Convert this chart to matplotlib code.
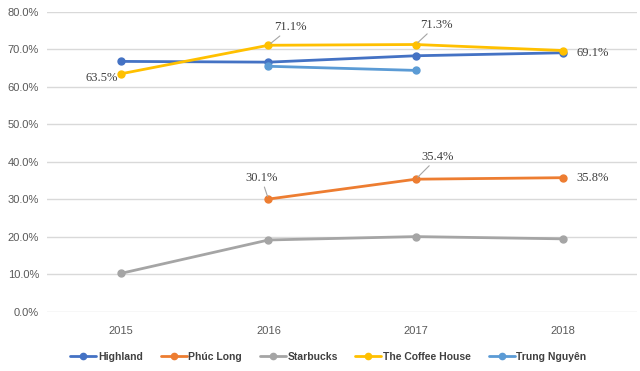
import numpy as np
import matplotlib
matplotlib.use("Agg")
import matplotlib.pyplot as plt

years = ["2015", "2016", "2017", "2018"]
highland = [0.668, 0.666, 0.683, 0.691]
phuc_long = [np.nan, 0.301, 0.354, 0.358]
starbucks = [0.103, 0.192, 0.201, 0.195]
coffee_house = [0.635, 0.711, 0.713, 0.697]
trung_nguyen = [np.nan, 0.655, 0.644, np.nan]

series = [
    ("Highland", highland, "#4472C4"),
    ("Phúc Long", phuc_long, "#ED7D31"),
    ("Starbucks", starbucks, "#A5A5A5"),
    ("The Coffee House", coffee_house, "#FFC000"),
    ("Trung Nguyên", trung_nguyen, "#5B9BD5"),
]

fig = plt.figure(figsize=(6.4, 3.71), dpi=100)
ax = fig.add_axes([0.074, 0.159, 0.921, 0.809])
x = np.arange(len(years))

for name, vals, col in series:
    ax.plot(x, vals, color=col, lw=2.0, marker="o", ms=5, label=name,
            solid_capstyle="round")

ax.set_xlim(-0.5, len(years) - 0.5)
ax.set_ylim(0, 0.8)
ax.set_yticks(np.arange(0, 0.81, 0.1))
ax.set_yticklabels(["%.1f%%" % (v * 100) for v in np.arange(0, 0.81, 0.1)])
ax.set_xticks(x)
ax.set_xticklabels(years)
ax.grid(axis="y", color="#D9D9D9", lw=1)
ax.set_axisbelow(True)
for s in ax.spines.values():
    s.set_visible(False)
ax.tick_params(length=0, labelsize=8, colors="#595959", pad=6)
ax.tick_params(axis="x", pad=10)
for lab in ax.get_xticklabels() + ax.get_yticklabels():
    lab.set_fontfamily("Liberation Sans")

# data labels (serif, like the source)
lab_kw = dict(fontsize=9, family="Liberation Serif", color="#404040",
              textcoords="offset points")
arrow = dict(arrowstyle="-", color="#A5A5A5", lw=0.8, shrinkA=0, shrinkB=2)
ax.annotate("63.5%", (0, coffee_house[0]), xytext=(-14, -3), ha="center", va="center", **lab_kw)
ax.annotate("71.1%", (1, coffee_house[1]), xytext=(16, 13), ha="center", va="center",
            arrowprops=arrow, **lab_kw)
ax.annotate("71.3%", (2, coffee_house[2]), xytext=(15, 14), ha="center", va="center",
            arrowprops=arrow, **lab_kw)
ax.annotate("69.1%", (3, highland[3]), xytext=(21, 0), ha="center", va="center", **lab_kw)
ax.annotate("30.1%", (1, phuc_long[1]), xytext=(-5, 15), ha="center", va="center",
            arrowprops=arrow, **lab_kw)
ax.annotate("35.4%", (2, phuc_long[2]), xytext=(16, 16), ha="center", va="center",
            arrowprops=arrow, **lab_kw)
ax.annotate("35.8%", (3, phuc_long[3]), xytext=(21, 0), ha="center", va="center", **lab_kw)

leg = fig.legend(loc="center", bbox_to_anchor=(0.513, 0.038), ncol=5, frameon=False,
                 handlelength=2.5, handletextpad=0.15, columnspacing=1.7,
                 prop={"family": "Liberation Sans", "weight": "bold", "size": 7.5})
for t in leg.get_texts():
    t.set_color("#404040")
for h in leg.get_lines():
    h.set_markersize(4.5)

fig.savefig("out.png", dpi=100)
